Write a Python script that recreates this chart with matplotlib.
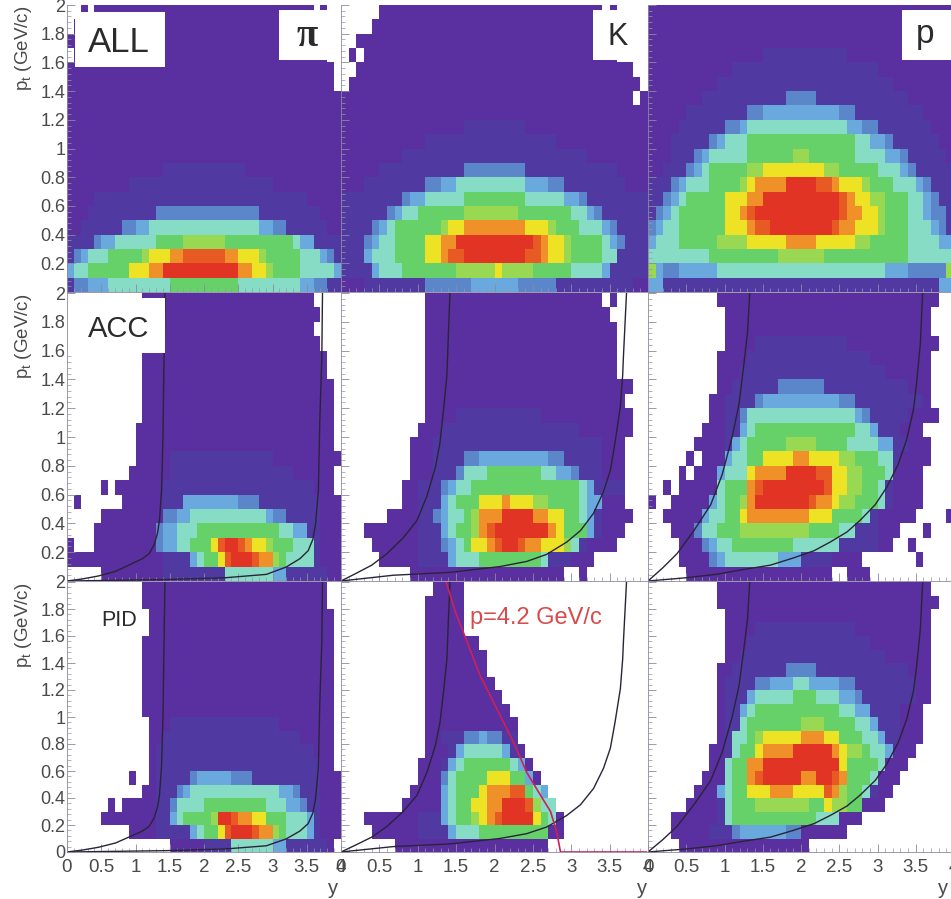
import numpy as np
import matplotlib
matplotlib.use("Agg")
import matplotlib.pyplot as plt
from matplotlib.colors import ListedColormap
from matplotlib.patches import Rectangle
from matplotlib.ticker import MultipleLocator, FixedLocator, FixedFormatter

plt.rcParams['font.family'] = ['Liberation Sans', 'DejaVu Sans']
plt.rcParams['mathtext.fontset'] = 'custom'
plt.rcParams['mathtext.rm'] = 'Liberation Sans'
plt.rcParams['mathtext.it'] = 'Liberation Sans'

# yield levels: . empty, 1 lowest ... b highest; rows run from pt=2 down to pt=0
ALL_PI = [
"..1.111111 1111111111 1111111111 111111.1..",
".111111111 1111111111 1111111111 11111111..",
"1111111111 1111111111 1111111111 11111111..",
".111111111 1111111111 1111111111 11111111..",
"1111111111 1111111111 1111111111 111111111.",
"1111111111 1111111111 1111111111 111111111.",
"1111111111 1111111111 1111111111 1111111111",
"1111111111 1111111111 1111111111 1111111111",
"1111111111 1111111111 1111111111 1111111111",
"1111111111 1111111111 1111111111 1111111111",
"1111111111 1111111111 1111111111 1111111111",
"1111111111 1111222222 2222221111 1111111111",
"1111111112 2222222222 2222222222 1111111111",
"1111222222 2222222222 2222222222 2222211111",
"1112222222 2223333333 3333333322 2222222111",
"1122222233 4455555555 5555555544 3322222211",
"2222344555 5556666777 7776666666 6665442222",
"2345556666 6788899aaa aaa9988876 6666555432",
"4556666668 8899bbbbbb bbbbb99887 6666555554",
"2334445555 5555566666 6666655555 5555443322",
]
ALL_K = [
".....11111 1111111111 1111111111 1111.1....",
"....111111 1111111111 1111111111 111111....",
"..11111111 1111111111 1111111111 111111....",
".1.1111111 1111111111 1111111111 111111....",
"..11111111 1111111111 1111111111 11111111..",
".111111111 1111111111 1111111111 111111111.",
"1111111111 1111111111 1111111111 11111111.1",
"1111111111 1111111111 1111111111 1111111111",
"1111111111 1111112222 2222111111 1111111111",
"1111111111 1222222222 2222222211 1111111111",
"1111111122 2222222222 2222222222 2211111111",
"1111122222 2222223333 3333222222 2222221111",
"1112222222 2334455555 5555444332 2222222111",
"2222222234 4555556666 6666555554 4322222222",
"2222223455 6666667777 7776666666 5543222222",
"2222345666 6667889999 9999888766 6555432222",
"2223455666 68899bbbbb bbbbba9887 6666543222",
"2224555666 6889aabbbb bbbbaa9887 6666552222",
"2222455566 6666677777 8777766666 5555422222",
"1112222222 2333333444 4443333322 2222222211",
]
ALL_P = [
"1111111111 1111111111 1111111111 1111111111",
"1111111111 1111111111 1111111111 1111111111",
"1111111111 1111111111 1111111111 1111111111",
"1111111111 1111122222 2222221111 1111111111",
"1111111111 1222222222 2222222222 1111111111",
"1111111112 2222222222 2222222222 2211111111",
"1111111222 2222222233 3322222222 2222111111",
"1111122222 2223344444 4444433222 2222221111",
"1111222222 3345555555 5555554433 2222222111",
"1112222234 5556666666 6666666554 4322222211",
"1112223455 5556666667 7666666555 5443222221",
"1122234566 6667788888 8887766666 5554322222",
"2223455566 66789999bb bbaa988876 6655543222",
"2234566666 88899bbbbb bbbbba9887 7666554322",
"2345666666 889abbbbbb bbbbba9988 7666554332",
"3455666666 8889aabbbb bbbba99888 7666555432",
"4555666667 7778888899 9988888776 6666555544",
"5555555566 6666666777 7776666666 6666555555",
"7433444445 5555555555 5555555555 5444333337",
"4422222222 2222222222 2222222222 2222222244",
]
ACC_PI = [
".......... .111111111 1111111111 111111....",
".......... .111111111 1111111111 1111111...",
".......... .111111111 1111111111 111111....",
".......... .111111111 1111111111 1111111...",
".......... .111111111 1111111111 11111111..",
".......... .111111111 1111111111 11111111..",
".......... .111111111 1111111111 111111111.",
".......... .111111111 1111111111 111111111.",
".......... .111111111 1111111111 111111111.",
".......... 1111111111 1111111111 111111111.",
".......... 1111111111 1111111111 111111111.",
".......... 1111122222 2222222222 1111111111",
".........1 1111122222 2222222222 222111111.",
".....1.111 1111222222 2222222222 222222111.",
".1......11 1111222444 4444433322 2222222111",
".....11111 1111334455 5555555554 3322222111",
"....111111 1113445556 6666666666 6554422111",
"1...111111 1113445566 68abba9887 6665552111",
"1111111111 1111222245 668abbba99 7655552111",
".....11111 1111222222 2225555555 4422222211",
]
ACC_K = [
".......... .111111111 1111111111 1111.1....",
".......... .111111111 1111111111 11111.....",
".......... .111111111 1111111111 111111....",
".......... .111111111 1111111111 111111....",
".......... .111111111 1111111111 111111....",
".......... .111111111 1111111111 111111....",
".......... .111111111 1111111111 11111111..",
".......... .111111111 1111111111 1111111...",
".......... .111122222 2222221111 11111111..",
".......... 1112222222 2222222222 21111111..",
".........1 1122222222 2222222222 2222111...",
".........1 1122223344 4444444332 2222111...",
".........1 1122235556 6666665544 3222111...",
"........11 2223455666 6666666666 6542222...",
"........11 2224566688 8988877666 6544111...",
"......1111 2234556799 9bbbb99886 65421111..",
"...1111111 222456679a bbbbbbb986 6642111...",
"....111111 2223456889 abba998887 521111....",
".....11111 2222455566 6666665222 111.......",
".........1 1111111111 111111111. .1........",
]
ACC_P = [
".........1 1111111111 1111111111 11111111..",
".......... 1111111111 1111111111 1111111...",
".......... 1111111111 1111111111 1111111...",
".......... 1111222222 2222221111 11111111..",
".........1 1112222222 2222222221 1111111...",
".........1 1122222222 2222222222 2111111...",
".........1 1222222333 3332222222 2222111...",
"........11 2222344444 4444433222 2222221...",
"........11 2235555555 5555555432 22221111..",
".......111 2245666666 6666666554 222111....",
"......1111 2456666677 7766665555 4422111...",
".....1.111 4556688889 9888877666 5521111...",
"....1.1114 55589999bb bbaa887766 651111....",
"..1.111115 6669abbbbb bbba887766 521111....",
"1..1111145 6679bbbbbb ba99877666 521111....",
"..11111455 6689999999 9888666652 11111....1",
"...1113556 6677777777 7666655222 111...1...",
"....111345 5666666665 5555522222 11..1.....",
"....111134 5555555444 22221111.. .....1....",
".....11111 1111111111 1111..111. ..........",
]
PID_PI = [
".......... .111111111 1111111111 11111111..",
".......... .111111111 1111111111 11111111..",
".......... ..11111111 1111111111 111111111.",
".......... ..11111111 1111111111 111111111.",
".......... .111111111 1111111111 111111111.",
".......... .111111111 1111111111 111111111.",
".......... .111111111 1111111111 111111111.",
".......... .111111111 1111111111 111111111.",
".......... .111111111 1111111111 111111111.",
".......... .111111111 1111111111 111111111.",
".......... ..11122222 2222222222 211111111.",
".......... ..11222222 2222222222 222211111.",
".......... ..12222222 2222222222 222222111.",
".......... ..12222222 2222222222 222222211.",
".........1 ..12222234 4444333222 2222222111",
".......... .112223455 5555555555 5443222111",
"......1.11 1112235555 6666666665 5544322111",
".....11111 1112245666 67bba99886 6655542111",
".........1 1112222245 668abbba99 7655542111",
".......... .....11111 2222555555 442222221.",
]
PID_K = [
".......... ..1111.... .......... ..........",
".......... .11111.... .......... ..........",
".......... .11111.... .......... ..........",
".......... .11111.... .......... ..........",
".......... .1111111.. .......... ..........",
".......... .11111111. .......... ..........",
".......... .11111111. .......... ..........",
".......... .111111111 .......... ..........",
".......... .111111111 1......... ..........",
".......... .111111111 11........ ..........",
".......... .111111111 111....... ..........",
".......... .112223343 322....... ..........",
".......... .111245555 5421...... ..........",
".......... 1112456666 66541..... ..........",
".......... 1113566668 886641.... ..........",
".........1 1114566689 99aa654... ..........",
"........11 1114566889 9bbba755.. ..........",
"...1111111 2224566789 abbbb8651. ..........",
"....111111 2222455566 666666611. ..........",
".......111 1111111111 1111111... ..........",
]
PID_P = [
".........1 1111111111 1111111111 1111111...",
".........1 1111111111 1111111111 11111111..",
".......... 1111111111 1111111111 1111111...",
".......... 1111222222 2222222111 1111111...",
".......... 1112222222 2222222221 1111111...",
".......... 1122222222 2222222222 2111111...",
".........1 1222222233 3322222222 2222111...",
".........1 2222334445 5444433222 2222211...",
".........1 2224555556 6655544322 2222211...",
".........1 2245666666 6666655442 222111....",
".........1 2256666666 7776666554 222111....",
".........1 2556788888 9998866655 422111....",
"........11 256689999b bbbb987765 54111.....",
"........11 56699bbbbb bbbbb86666 5111......",
".......111 5669abbbbb 99bba96665 111.......",
"......1114 5668889998 888a976652 11........",
".....11112 5666777777 7668776611 1.........",
"...1111112 5666666666 66555111.. ..........",
"...1111122 2344444433 111111.... ..........",
"....111111 1111111111 1......... ..........",
]

# kinematic limit curves
PI_LEFT_Y = [0, 0.22, 0.46, 0.71, 0.95, 1.10, 1.2, 1.27, 1.32, 1.35, 1.38, 1.40, 1.41, 1.43]
PI_LEFT_PT = [0, 0.014, 0.035, 0.067, 0.121, 0.155, 0.19, 0.25, 0.33, 0.42, 0.63, 0.98, 1.32, 2.0]
PI_RIGHT_Y = [0, 1.44, 2.32, 2.91, 3.2, 3.4, 3.52, 3.59, 3.63, 3.67, 3.69, 3.72, 3.73]
PI_RIGHT_PT = [0, 0.01, 0.023, 0.046, 0.097, 0.155, 0.21, 0.29, 0.40, 0.63, 1.1, 1.56, 2.0]
K_LEFT_Y = [0, 0.2, 0.4, 0.6, 0.81, 0.99, 1.12, 1.23, 1.29, 1.34, 1.38, 1.40, 1.42]
K_LEFT_PT = [0, 0.054, 0.11, 0.19, 0.30, 0.42, 0.59, 0.79, 0.96, 1.21, 1.43, 1.73, 2.0]
K_RIGHT_Y = [0, 0.68, 1.42, 2.07, 2.42, 2.68, 2.94, 3.12, 3.29, 3.42, 3.51, 3.57, 3.64, 3.67, 3.68, 3.72]
K_RIGHT_PT = [0, 0.04, 0.06, 0.10, 0.136, 0.185, 0.27, 0.35, 0.47, 0.62, 0.77, 0.96, 1.21, 1.43, 1.56, 2.0]
P_LEFT_Y = [0, 0.19, 0.38, 0.6, 0.82, 0.97, 1.10, 1.19, 1.25, 1.30, 1.33]
P_LEFT_PT = [0, 0.09, 0.19, 0.35, 0.53, 0.74, 1.0, 1.23, 1.49, 1.72, 2.0]
P_RIGHT_Y = [0, 0.51, 0.9, 1.25, 1.6, 1.9, 2.17, 2.38, 2.6, 2.77, 2.97, 3.12, 3.27, 3.38, 3.47, 3.51, 3.56, 3.59]
P_RIGHT_PT = [0, 0.023, 0.047, 0.08, 0.11, 0.16, 0.21, 0.27, 0.34, 0.42, 0.53, 0.65, 0.81, 0.98, 1.19, 1.37, 1.65, 2.0]
MOM_Y = [1.37, 1.49, 1.64, 1.81, 2.03, 2.25, 2.42, 2.6, 2.73, 2.81, 2.86, 3.98]
MOM_PT = [2.0, 1.78, 1.56, 1.31, 1.06, 0.81, 0.59, 0.42, 0.30, 0.15, 0.0, 0.0]

Y_TICKS = [0, 0.5, 1, 1.5, 2, 2.5, 3, 3.5, 4]
Y_TICK_LABELS = ['0', '0.5', '1', '1.5', '2', '2.5', '3', '3.5', '4']
PT_TICKS = [0, 0.2, 0.4, 0.6, 0.8, 1, 1.2, 1.4, 1.6, 1.8, 2]
PT_TICK_LABELS = ['0', '0.2', '0.4', '0.6', '0.8', '1', '1.2', '1.4', '1.6', '1.8', '2']

LEVEL_CHARS = '.123456789ab'
LEVEL_COLORS = ['#ffffff', '#5a2f9f', '#503aa2', '#5b86c9', '#69a9dd', '#87dcc6',
                '#66d069', '#98d852', '#eee224', '#f09029', '#e85a24', '#e23425']

W, H = 951, 899
fig = plt.figure(figsize=(W / 100, H / 100), dpi=100, facecolor='white')
cmap = ListedColormap(LEVEL_COLORS)
y_edges = np.linspace(0, 4, 41)
pt_edges = np.linspace(0, 2, 21)


def to_matrix(rows):
    out = []
    for r in rows:
        s = r.replace(' ', '')
        s = (s + s[-1] * 40)[:40]
        out.append([LEVEL_CHARS.index(c) for c in s])
    return np.array(out[::-1])


X_EDGES = [(67, 341), (341, 648), (648, 954)]
Y_EDGES = [(5, 292), (293, 581), (582, 852)]
PANELS = [[ALL_PI, ALL_K, ALL_P], [ACC_PI, ACC_K, ACC_P], [PID_PI, PID_K, PID_P]]
CURVES = [((PI_LEFT_Y, PI_LEFT_PT), (PI_RIGHT_Y, PI_RIGHT_PT)),
          ((K_LEFT_Y, K_LEFT_PT), (K_RIGHT_Y, K_RIGHT_PT)),
          ((P_LEFT_Y, P_LEFT_PT), (P_RIGHT_Y, P_RIGHT_PT))]
GREY = '#4a4a4a'

for i in range(3):
    for j in range(3):
        x0, x1 = X_EDGES[j]
        y0, y1 = Y_EDGES[i]
        ax = fig.add_axes([x0 / W, 1 - y1 / H, (x1 - x0) / W, (y1 - y0) / H])
        ax.pcolormesh(y_edges, pt_edges, to_matrix(PANELS[i][j]), cmap=cmap,
                      vmin=-0.5, vmax=11.5, shading='flat')
        if i > 0:
            for cy, cpt in CURVES[j]:
                ax.plot(cy, cpt, color='#2a2438', lw=1.0, clip_on=True)
        if i == 2 and j == 1:
            ax.plot(MOM_Y, MOM_PT, color='#d0205a', lw=1.2)
        ax.set_xlim(0, 4)
        ax.set_ylim(0, 2)
        ax.xaxis.set_major_locator(FixedLocator(Y_TICKS))
        ax.xaxis.set_minor_locator(MultipleLocator(0.1))
        ax.yaxis.set_major_locator(FixedLocator(PT_TICKS))
        ax.yaxis.set_minor_locator(MultipleLocator(0.04))
        ax.tick_params(which='major', direction='in', length=6, width=0.6, color='#8d88a0')
        ax.tick_params(which='minor', direction='in', length=3, width=0.5, color='#9a96aa')
        ax.xaxis.set_major_formatter(FixedFormatter(Y_TICK_LABELS if i == 2 else [''] * 9))
        labels = PT_TICK_LABELS if (i == 2) else [''] + PT_TICK_LABELS[1:]
        ax.yaxis.set_major_formatter(FixedFormatter(labels if j == 0 else [''] * 11))
        ax.tick_params(axis='x', labelsize=13.5, labelcolor=GREY, pad=5)
        ax.tick_params(axis='y', labelsize=13, labelcolor=GREY, pad=1)
        for side, sp in ax.spines.items():
            sp.set_color('#8d88a0')
            sp.set_linewidth(0.6)
            if side in ('top', 'right'):
                sp.set_visible(False)


def px_text(x, y, s, **kw):
    fig.text(x / W, 1 - y / H, s, zorder=10, **kw)


def px_box(x0, y0, x1, y1):
    fig.add_artist(Rectangle((x0 / W, 1 - y1 / H), (x1 - x0) / W, (y1 - y0) / H,
                             transform=fig.transFigure, facecolor='white',
                             edgecolor='none', zorder=8))


px_box(75, 12, 165, 67)
px_box(279, 10, 333, 60)
px_box(593, 10, 648, 60)
px_box(902, 10, 951, 60)
px_box(68, 298, 165, 353)

INK = '#2b2b2b'
px_text(88, 42, 'ALL', fontsize=25, color=INK, va='center', ha='left')
px_text(307, 36, '\u03c0', fontsize=28, color=INK, va='center', ha='center', weight='bold',
        family=['Liberation Serif', 'DejaVu Serif'])
px_text(618, 37, 'K', fontsize=22, color=INK, va='center', ha='center')
px_text(925, 34, 'p', fontsize=24, color=INK, va='center', ha='center')
px_text(88, 329, 'ACC', fontsize=21, color=INK, va='center', ha='left')
px_text(101, 620, 'PID', fontsize=15.5, color=INK, va='center', ha='left')
px_text(470, 618, 'p=4.2 GeV/c', fontsize=17, color='#d94a4a', va='center', ha='left')

for top in (5, 293, 582):
    px_text(23, top + 1, r'p$_{\mathrm{t}}$ (GeV/c)', fontsize=13.5, color=GREY, rotation=90,
            va='top', ha='center')
for x in (333, 642, 943):
    px_text(x, 888, 'y', fontsize=14.5, color=GREY, va='center', ha='center')

fig.savefig('out.png', dpi=100, facecolor='white')
